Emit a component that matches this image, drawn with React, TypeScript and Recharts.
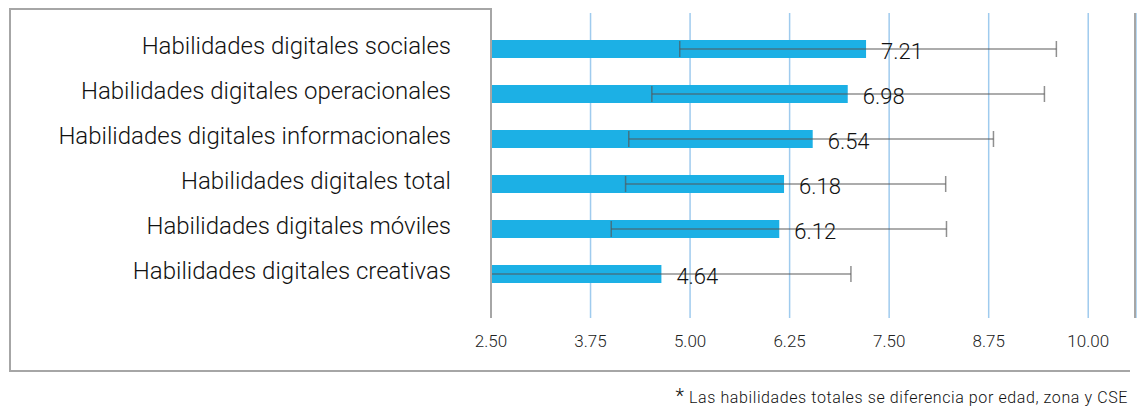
import { BarChart, Bar, XAxis, YAxis, CartesianGrid, ErrorBar, LabelList } from 'recharts';

const categories = [
  'Habilidades digitales sociales',
  'Habilidades digitales operacionales',
  'Habilidades digitales informacionales',
  'Habilidades digitales total',
  'Habilidades digitales móviles',
  'Habilidades digitales creativas',
];
const values = [7.21, 6.98, 6.54, 6.18, 6.12, 4.64];
// error bar ends as drawn in the picture
const lowEnds = [4.87, 4.52, 4.23, 4.19, 4.01, 2.5];
const highEnds = [9.6, 9.45, 8.81, 8.21, 8.22, 7.02];
const xTicks = [2.5, 3.75, 5, 6.25, 7.5, 8.75, 10];
const note = 'Las habilidades totales se diferencia por edad, zona y CSE';

const FONT = 'Roboto, "Liberation Sans", Arial, sans-serif';

export default function App() {
  const data = categories.map((name, i) => ({
    name,
    value: values[i],
    err: [values[i] - lowEnds[i], highEnds[i] - values[i]],
  }));

  const line = '#a6a6a6';

  return (
    <div style={{ position: 'absolute', left: 0, top: 0, width: 1137, height: 408, fontFamily: FONT, background: '#fff' }}>
      {/* frame around the label area */}
      <div style={{ position: 'absolute', left: 9, top: 8, width: 482, height: 2, background: line }} />
      <div style={{ position: 'absolute', left: 9, top: 8, width: 2, height: 364, background: line }} />
      <div style={{ position: 'absolute', left: 9, top: 370, width: 1121, height: 2, background: line }} />
      <div style={{ position: 'absolute', left: 490, top: 8, width: 2, height: 6, background: line }} />

      <BarChart
        width={1137}
        height={408}
        data={data}
        layout="vertical"
        margin={{ top: 13, right: 1, left: 0, bottom: 60 }}
        style={{ position: 'absolute', left: 0, top: 0 }}
      >
        <CartesianGrid horizontal={false} vertical={true} stroke="#9fcbee" strokeWidth={1.5} />
        <XAxis
          type="number"
          domain={[2.5, 10.6]}
          ticks={xTicks}
          allowDataOverflow
          axisLine={false}
          tickLine={false}
          tickSize={0}
          tickMargin={17}
          height={30}
          tickFormatter={(v: number) => v.toFixed(2)}
          tick={{ fontSize: 17, fill: '#222', fontFamily: FONT, fontWeight: 300 }}
        />
        <YAxis
          type="category"
          dataKey="name"
          width={491}
          padding={{ top: 13, bottom: 22 }}
          axisLine={{ stroke: line, strokeWidth: 2 }}
          tickLine={false}
          tickSize={0}
          tickMargin={40}
          tick={{ fontSize: 24, fill: '#111', fontFamily: FONT, fontWeight: 300, dy: -3 }}
        />
        <Bar dataKey="value" fill="#1cb0e5" barSize={18} isAnimationActive={false}>
          <ErrorBar dataKey="err" direction="x" width={8} stroke="#555" strokeOpacity={0.65} strokeWidth={1.5} />
          <LabelList
            dataKey="value"
            position="right"
            offset={15}
            formatter={(v: any) => Number(v).toFixed(2)}
            style={{ fontSize: 22, fill: '#111', fontFamily: FONT, fontWeight: 300 }}
            dy={2}
          />
        </Bar>
      </BarChart>

      {/* right border of the plot */}
      <div style={{ position: 'absolute', left: 1134, top: 13, width: 2, height: 305, background: line }} />

      <div
        style={{
          position: 'absolute',
          right: 9,
          top: 386,
          fontSize: 16,
          fontWeight: 300,
          letterSpacing: 0.6,
          color: '#111',
          whiteSpace: 'nowrap',
          lineHeight: '20px',
        }}
      >
        <span style={{ fontSize: 20 }}>*</span> {note}
      </div>
    </div>
  );
}
